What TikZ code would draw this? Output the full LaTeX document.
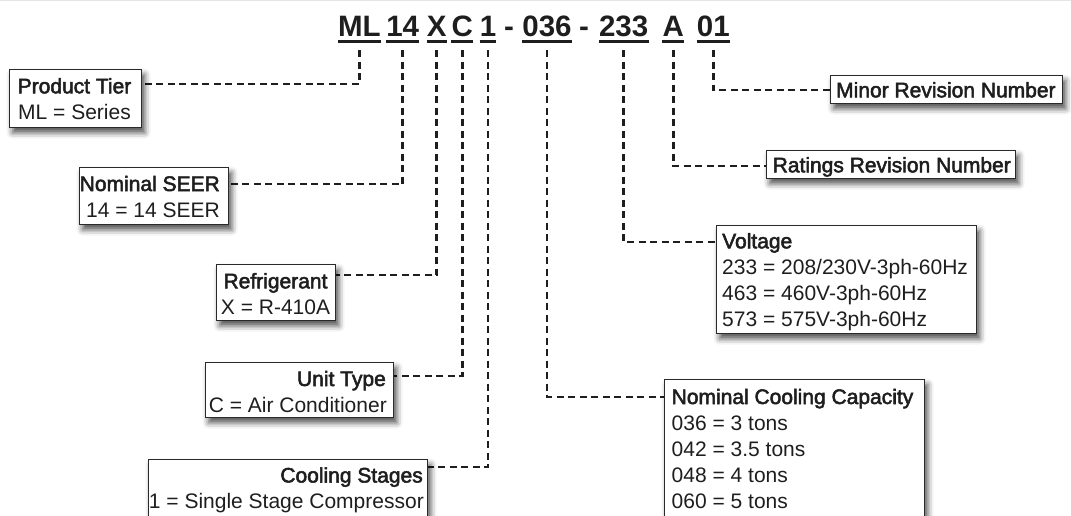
\documentclass[tikz,border=0pt]{standalone}
\usepackage{fontspec}
\setmainfont{Liberation Sans}
\newfontfamily\medfont[FakeBold=2.4]{Liberation Sans}
\usetikzlibrary{shadows.blur}
\definecolor{ink}{HTML}{1E1E1E}
\definecolor{edge}{HTML}{2A2A2A}
\definecolor{topline}{HTML}{E6E6E6}
\tikzset{
 x=1pt,y=-1pt,
 box/.style={draw=edge, line width=1.3pt, fill=white, inner sep=0pt, anchor=north west,
   blur shadow={shadow xshift=3pt, shadow yshift=-5pt, shadow blur radius=6pt, shadow opacity=70}},
 txt/.style={inner sep=0pt, text=ink, font=\fontsize{21}{25}\selectfont},
 head/.style={inner sep=0pt, text=ink, font=\fontsize{21}{25}\medfont},
 code/.style={inner sep=0pt, text=ink, font=\fontsize{29.5}{34}\selectfont\bfseries, anchor=base},
 uline/.style={draw=ink, line width=2.6pt},
 conn/.style={draw=ink, line width=2.5pt, dash pattern=on 7pt off 4.5pt},
}
\begin{document}
\begin{tikzpicture}
\useasboundingbox (0,0) rectangle (1071,515);
\clip (0,0) rectangle (1071,515);
\fill[topline] (0,0) rectangle (1071,1.3);

% model code
\node[code] (cML) at (359.3,36.7) {ML};
\node[code] (c14) at (402.7,36.7) {14};
\node[code] (cX) at (436.7,36.7) {X};
\node[code] (cC) at (462.3,36.7) {C};
\node[code] (c1) at (488,36.7) {1};
\node[code] (d1) at (509,36.7) {-};
\node[code] (c036) at (547,36.7) {036};
\node[code] (d2) at (584,36.7) {-};
\node[code] (c233) at (623.7,36.7) {233};
\node[code] (cA) at (673.3,36.7) {A};
\node[code] (c01) at (713.3,36.7) {01};
\foreach \n in {cML,c14,cX,cC,c1,c036,c233,cA,c01}{
  \draw[uline] ([yshift=-4.8pt]\n.base west) -- ([yshift=-4.8pt]\n.base east);
}

% connectors
\draw[conn] (cML.base |- 0,50) |- (141,84) coordinate (tierIn);
\draw[conn] (c14.base |- 0,50) |- (228,184) coordinate (seerIn);
\draw[conn] (cX.base |- 0,50) |- (335,275) coordinate (refrIn);
\draw[conn] (cC.base |- 0,50) |- (393,376) coordinate (unitIn);
\draw[conn] (c1.base |- 0,50) |- (427,467) coordinate (coolIn);
\draw[conn] (c036.base |- 0,50) |- (664,397) coordinate (capIn);
\draw[conn] (c233.base |- 0,50) |- (716,242) coordinate (voltIn);
\draw[conn] (cA.base |- 0,50) |- (766,166) coordinate (ratIn);
\draw[conn] (c01.base |- 0,50) |- (830,90) coordinate (minIn);

% left boxes
\node[box, minimum width=132pt, minimum height=58pt] (tier) at (9,69) {};
\node[head, anchor=base east] (tierH) at (131.5,93.3) {Product Tier};
\node[txt, anchor=base east] (tierV) at (131,119) {ML = Series};

\node[box, minimum width=149pt, minimum height=57pt] (seer) at (79,167) {};
\node[head, anchor=base east] (seerH) at (220,191) {Nominal SEER};
\node[txt, anchor=base east] (seerV) at (220,217) {14 = 14 SEER};

\node[box, minimum width=119pt, minimum height=56pt] (refr) at (216,264) {};
\node[head, anchor=base] (refrH) at (275.5,288.3) {Refrigerant};
\node[txt, anchor=base] (refrV) at (275.5,314) {X = R-410A};

\node[box, minimum width=188pt, minimum height=55pt] (unit) at (205,362) {};
\node[head, anchor=base east] (unitH) at (386,386) {Unit Type};
\node[txt, anchor=base east] (unitV) at (387,412) {C = Air Conditioner};

\node[box, minimum width=279pt, minimum height=70pt] (cool) at (148,459) {};
\node[head, anchor=base east] (coolH) at (423,482.5) {Cooling Stages};
\node[txt, anchor=base east] (coolV) at (424,508.5) {1 = Single Stage Compressor};

% right boxes
\node[box, minimum width=232pt, minimum height=28pt] (minor) at (830,75) {};
\node[head, anchor=base west] (minorH) at (836,97.3) {Minor Revision Number};

\node[box, minimum width=249pt, minimum height=28pt] (rat) at (766,150) {};
\node[head, anchor=base west] (ratH) at (772.5,172.3) {Ratings Revision Number};

\node[box, minimum width=260pt, minimum height=108pt] (volt) at (716,225) {};
\node[head, anchor=base west] (voltH) at (722,248.3) {Voltage};
\node[txt, anchor=base west] (voltA) at (722,274.3) {233 = 208/230V-3ph-60Hz};
\node[txt, anchor=base west] (voltB) at (722,300.3) {463 = 460V-3ph-60Hz};
\node[txt, anchor=base west] (voltC) at (722,326.3) {573 = 575V-3ph-60Hz};

\node[box, minimum width=260pt, minimum height=150pt] (cap) at (664,379) {};
\node[head, anchor=base west] (capH) at (671.5,404) {Nominal Cooling Capacity};
\node[txt, anchor=base west] (capA) at (671.5,430) {036 = 3 tons};
\node[txt, anchor=base west] (capB) at (671.5,456) {042 = 3.5 tons};
\node[txt, anchor=base west] (capC) at (671.5,482) {048 = 4 tons};
\node[txt, anchor=base west] (capD) at (671.5,508) {060 = 5 tons};
\end{tikzpicture}
\end{document}
